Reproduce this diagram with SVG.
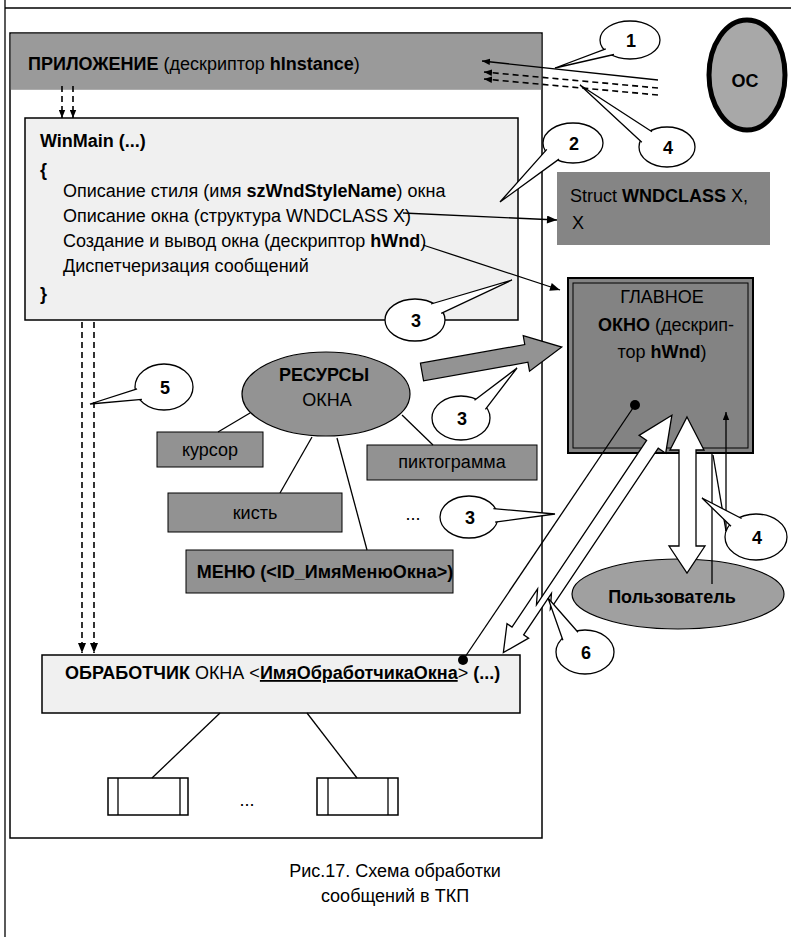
<svg xmlns="http://www.w3.org/2000/svg" width="791" height="937" viewBox="0 0 791 937">
<style>
text{font-family:"Liberation Sans",Arial,sans-serif;font-size:18px;fill:#000}
.b{font-weight:bold}
.ln{fill:none;stroke:#000;stroke-width:1.3}
.dash{fill:none;stroke:#000;stroke-width:1.6;stroke-dasharray:6 4}
.gray{fill:#929292;stroke:#000;stroke-width:1}
.light{fill:#f0f0f0;stroke:#000;stroke-width:1.5}
.call{fill:#fff;stroke:#000;stroke-width:1.3}
.num{font-weight:bold;text-anchor:middle}
.hollow{fill:#fff;stroke:#000;stroke-width:1.3}
.mid{text-anchor:middle}
</style>
<defs>
<marker id="ah" viewBox="0 0 10 8" refX="10" refY="4" markerWidth="11" markerHeight="8" markerUnits="userSpaceOnUse" orient="auto"><path d="M0,0 L10,4 L0,8 z" fill="#000"/></marker>
<marker id="ahs" viewBox="0 0 10 8" refX="10" refY="4" markerWidth="8" markerHeight="7" markerUnits="userSpaceOnUse" orient="auto"><path d="M0,0 L10,4 L0,8 z" fill="#000"/></marker>
</defs>

<g id="frame">
<line x1="5" y1="0" x2="5" y2="937" class="ln"/>
<line x1="5" y1="8" x2="791" y2="8" class="ln"/>
</g>

<g id="app">
<rect x="10" y="33" width="532" height="805" fill="#fff" stroke="#000" stroke-width="1.5"/>
<rect x="10.8" y="33.8" width="530.4" height="56" fill="#9a9a9a"/>
<text x="28" y="70"><tspan class="b">ПРИЛОЖЕНИЕ</tspan> (дескриптор <tspan class="b">hInstance</tspan>)</text>
</g>

<g id="winmain">
<rect x="25" y="118" width="493" height="202" class="light"/>
<text x="40" y="147" class="b">WinMain (...)</text>
<text x="40" y="176" class="b" font-size="20">{</text>
<text x="63" y="197">Описание стиля (имя <tspan class="b">szWndStyleName</tspan>) окна</text>
<text x="63" y="222">Описание окна (структура WNDCLASS X)</text>
<text x="63" y="247">Создание и вывод окна (дескриптор <tspan class="b">hWnd</tspan>)</text>
<text x="63" y="272">Диспетчеризация сообщений</text>
<text x="40" y="300" class="b" font-size="20">}</text>
</g>

<g id="os">
<ellipse cx="747" cy="75" rx="38" ry="55" fill="#a8a8a8" stroke="#000" stroke-width="5"/>
<text x="745" y="87" class="b mid" font-size="34">ОС</text>
</g>

<g id="struct">
<rect x="557" y="172" width="213" height="73" fill="#858585"/>
<text x="570" y="202">Struct <tspan class="b">WNDCLASS</tspan> X,</text>
<text x="572" y="229">X</text>
</g>

<g id="mainwnd">
<rect x="568" y="278" width="185" height="175" fill="#838383" stroke="#000" stroke-width="2"/>
<rect x="573" y="283" width="175" height="165" fill="none" stroke="#000" stroke-width="1"/>
<text x="662" y="303" class="mid">ГЛАВНОЕ</text>
<text x="666" y="331" class="mid"><tspan class="b">ОКНО</tspan> (дескрип-</text>
<text x="662" y="358" class="mid">тор <tspan class="b">hWnd</tspan>)</text>
</g>

<g id="resources">
<ellipse cx="326" cy="394" rx="84" ry="42" fill="#939393" stroke="#000" stroke-width="1.2"/>
<text x="324" y="381" class="b mid">РЕСУРСЫ</text>
<text x="327" y="406" class="mid">ОКНА</text>
</g>
<g id="cursor">
<rect x="157" y="432" width="106" height="35" class="gray"/>
<text x="210" y="456" class="mid" font-size="17">курсор</text>
</g>
<g id="icon">
<rect x="367" y="445" width="170" height="35" class="gray"/>
<text x="452" y="468" class="mid" font-size="17">пиктограмма</text>
</g>
<g id="brush">
<rect x="168" y="493" width="174" height="39" class="gray"/>
<text x="255" y="519" class="mid" font-size="17">кисть</text>
</g>
<g id="menu">
<rect x="186" y="550" width="267" height="43" class="gray"/>
<text x="325" y="578" class="b mid" font-size="16">МЕНЮ (&lt;ID_ИмяМенюОкна&gt;)</text>
</g>
<text x="413" y="520" class="mid" font-size="14">...</text>

<g id="user">
<ellipse cx="678" cy="594" rx="106" ry="35" fill="#a0a0a0" stroke="#000" stroke-width="1.2"/>
<text x="672" y="603" class="b mid" font-size="17">Пользователь</text>
</g>

<g id="handler">
<rect x="42" y="655" width="478" height="58" class="light"/>
<text x="65" y="679"><tspan class="b">ОБРАБОТЧИК</tspan> ОКНА &lt;<tspan class="b" text-decoration="underline">ИмяОбработчикаОкна</tspan>&gt; <tspan class="b">(...)</tspan></text>
</g>

<g id="sub1">
<rect x="108" y="778" width="80" height="37" fill="#fff" stroke="#000" stroke-width="1.5"/>
<line x1="118" y1="778" x2="118" y2="815" class="ln"/>
<line x1="180" y1="778" x2="180" y2="815" class="ln"/>
</g>
<g id="sub2">
<rect x="317" y="778" width="81" height="37" fill="#fff" stroke="#000" stroke-width="1.5"/>
<line x1="328" y1="778" x2="328" y2="815" class="ln"/>
<line x1="388" y1="778" x2="388" y2="815" class="ln"/>
</g>
<text x="247" y="806" class="mid" font-size="14">...</text>

<g id="connectors">
<line x1="62" y1="86" x2="62" y2="118" class="dash" marker-end="url(#ahs)"/>
<line x1="73" y1="86" x2="73" y2="118" class="dash" marker-end="url(#ahs)"/>
<line x1="82" y1="322" x2="82" y2="653" class="dash" marker-end="url(#ah)"/>
<line x1="94" y1="322" x2="94" y2="653" class="dash" marker-end="url(#ah)"/>
<line x1="658" y1="80" x2="482" y2="61" class="ln" marker-end="url(#ahs)"/>
<line x1="658" y1="88" x2="484" y2="72" class="dash" stroke-width="1.3" marker-end="url(#ahs)"/>
<line x1="658" y1="95" x2="484" y2="79" class="dash" stroke-width="1.3" marker-end="url(#ahs)"/>
<line x1="403" y1="213" x2="557" y2="220" class="ln" marker-end="url(#ah)"/>
<line x1="423" y1="245" x2="560" y2="290" class="ln" marker-end="url(#ah)"/>
<line x1="250" y1="413" x2="218" y2="432" class="ln"/>
<line x1="312" y1="437" x2="280" y2="493" class="ln"/>
<line x1="337" y1="438" x2="367" y2="550" class="ln"/>
<line x1="402" y1="415" x2="433" y2="445" class="ln"/>
<line x1="220" y1="713" x2="152" y2="778" class="ln"/>
<line x1="307" y1="713" x2="357" y2="778" class="ln"/>
<g transform="translate(422,372) rotate(-10.1)">
<polygon points="0,-9 106,-9 106,-18 142,0 106,18 106,9 0,9" fill="#939393" stroke="#000" stroke-width="1.2"/>
</g>
<polygon points="687,417 704,450 696,450 696,546 705,546 687,573 669,546 679,546 679,450 670,450" class="hollow"/>
<line x1="712" y1="453" x2="712" y2="584" class="ln"/>
<line x1="726" y1="531" x2="726" y2="412" class="ln" marker-end="url(#ahs)"/>
<line x1="726" y1="531" x2="713" y2="455" class="ln"/>
<g transform="translate(510,657) rotate(-56.2)">
<polygon points="0,-8 26,-21 26,-15 72,-15 58,-7 256,-7 256,-16 291,0 256,16 256,7 62,7 76,-1 26,-1 26,5" class="hollow"/>
</g>
<line x1="635" y1="405" x2="463" y2="660" class="ln"/>
<circle cx="635" cy="405" r="5" fill="#000"/>
<circle cx="463" cy="660" r="5" fill="#000"/>
</g>

<g id="callout1">
<ellipse cx="630" cy="40" rx="30" ry="19" class="call"/>
<polyline points="605.8,48.8 555,68 614,54.5" class="call"/>
<text x="631" y="47" class="num">1</text>
</g>
<g id="callout4a">
<ellipse cx="667" cy="147" rx="28" ry="20" class="call"/>
<polyline points="641.8,142.2 580,85 652,131.8" class="call"/>
<text x="668" y="154" class="num">4</text>
</g>
<g id="callout2">
<ellipse cx="573" cy="143" rx="30" ry="20" class="call"/>
<polyline points="546.8,149.4 500,202 559,159.1" class="call"/>
<text x="574" y="150" class="num">2</text>
</g>
<g id="callout3a">
<ellipse cx="415" cy="320" rx="30" ry="21" class="call"/>
<polyline points="441.2,313.3 512,280 431,304" class="call"/>
<text x="416" y="327" class="num">3</text>
</g>
<g id="callout5">
<ellipse cx="164" cy="387" rx="29" ry="23" class="call"/>
<polyline points="137.1,388.9 90,404 141.9,399.3" class="call"/>
<text x="165" y="394" class="num">5</text>
</g>
<g id="callout3b">
<ellipse cx="461" cy="418" rx="29" ry="22" class="call"/>
<polyline points="485.4,409.3 517,368 474.5,400.3" class="call"/>
<text x="462" y="425" class="num">3</text>
</g>
<g id="callout3c">
<ellipse cx="469" cy="517" rx="29" ry="21" class="call"/>
<polyline points="493.4,508.7 555,514 495.1,522.1" class="call"/>
<text x="470" y="524" class="num">3</text>
</g>
<g id="callout4b">
<ellipse cx="756" cy="537" rx="31" ry="23" class="call"/>
<polyline points="731,526.3 702,498 741.6,518.5" class="call"/>
<text x="757" y="544" class="num">4</text>
</g>
<g id="callout6">
<ellipse cx="585" cy="652" rx="29" ry="22" class="call"/>
<polyline points="562.9,640.3 548,598 578,632.2" class="call"/>
<text x="586" y="659" class="num">6</text>
</g>

<g id="caption">
<text x="395" y="877" class="mid" font-size="21">Рис.17. Схема обработки</text>
<text x="395" y="902" class="mid" font-size="21">сообщений в ТКП</text>
</g>
</svg>
